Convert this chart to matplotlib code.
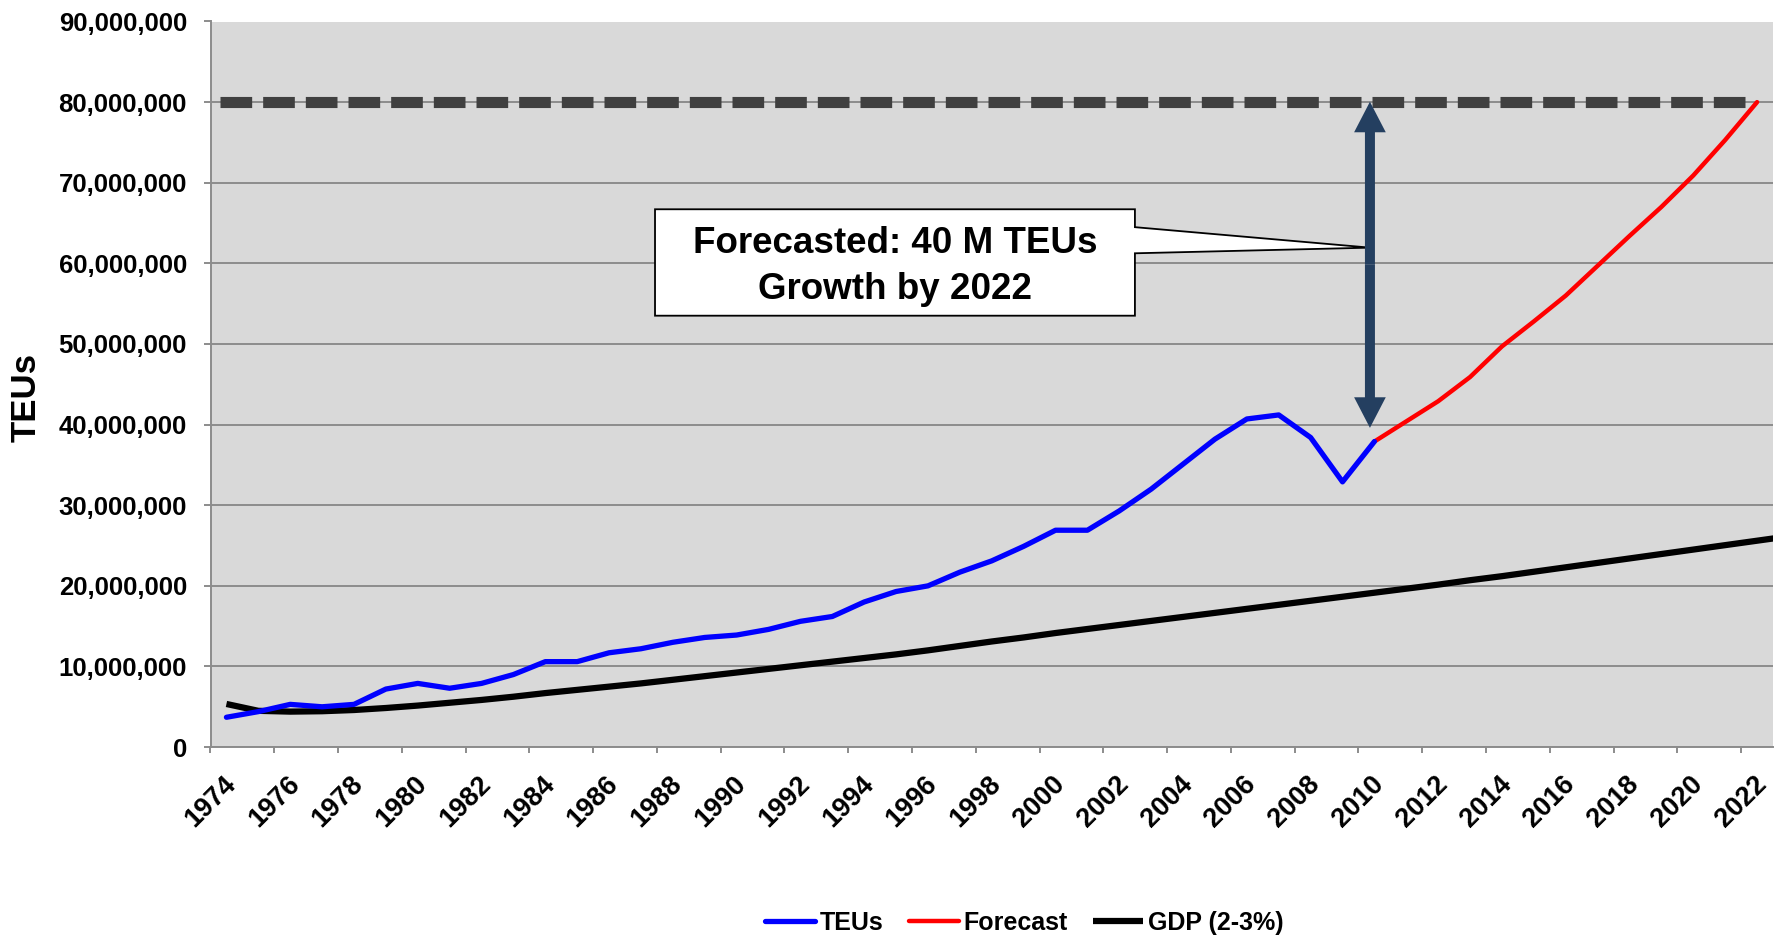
import matplotlib
matplotlib.use("Agg")
import matplotlib.pyplot as plt
from matplotlib.patches import FancyArrowPatch, Polygon
from matplotlib.ticker import FuncFormatter, MultipleLocator

plt.rcParams["font.family"] = ["Liberation Sans", "DejaVu Sans"]
plt.rcParams["font.weight"] = "bold"

# ---- data (values in TEUs, one point per year, drawn at mid-year) ----
teu_years = list(range(1974, 2011))
teu_vals = [3.7, 4.4, 5.3, 5.0, 5.3, 7.2, 7.9, 7.3, 7.9, 9.0,
            10.6, 10.6, 11.7, 12.2, 13.0, 13.6, 13.9, 14.6, 15.6, 16.2,
            18.0, 19.3, 20.0, 21.7, 23.1, 24.9, 26.9, 26.9, 29.3, 32.0,
            35.1, 38.2, 40.7, 41.2, 38.4, 32.9, 37.9]
fc_years = list(range(2010, 2023))
fc_vals = [37.9, 40.4, 42.9, 45.9, 49.7, 52.8, 56.0, 59.7, 63.4, 67.0,
           70.9, 75.3, 80.0]
gdp_years = list(range(1974, 2024))
gdp_vals = [5.35, 4.5, 4.4, 4.45, 4.6, 4.85, 5.15, 5.5, 5.85, 6.25,
            6.7, 7.1, 7.5, 7.9, 8.35, 8.8, 9.25, 9.7, 10.15, 10.6,
            11.05, 11.5, 12.0, 12.55, 13.1, 13.6, 14.15, 14.65, 15.15, 15.65,
            16.15, 16.65, 17.15, 17.65, 18.15, 18.65, 19.15, 19.65, 20.15, 20.7,
            21.2, 21.75, 22.3, 22.85, 23.4, 23.95, 24.5, 25.05, 25.6, 26.15]
CAPACITY = 80.0          # million TEUs, dashed reference
ARROW_YEAR = 2010.36
ARROW_LOW, ARROW_HIGH = 39.6, 80.05
CALLOUT = "Forecasted: 40 M TEUs\nGrowth by 2022"
M = 1e6

mid = lambda ys: [y + 0.5 for y in ys]
scale = lambda vs: [v * M for v in vs]

fig = plt.figure(figsize=(17.75, 9.36), dpi=100)
ax = fig.add_axes([210.5 / 1775, 1 - 747.1 / 936, 1562.5 / 1775, 725.6 / 936])
ax.set_facecolor("#D9D9D9")
ax.set_xlim(1974, 2023)
ax.set_ylim(0, 90 * M)

GRID = "#8c8c8c"
ax.yaxis.set_major_locator(MultipleLocator(10 * M))
ax.yaxis.set_major_formatter(FuncFormatter(lambda v, p: f"{v:,.0f}"))
ax.grid(axis="y", color=GRID, lw=1.4, zorder=0)
ax.set_axisbelow(True)
ax.set_xticks(range(1974, 2023, 2))
for s in ("top", "right"):
    ax.spines[s].set_visible(False)
for s in ("left", "bottom"):
    ax.spines[s].set_color(GRID)
    ax.spines[s].set_linewidth(1.4)
ax.tick_params(axis="y", direction="out", length=5, width=1.4, color=GRID,
               pad=12, labelsize=18.5)
ax.tick_params(axis="x", direction="out", length=4, width=1.4, color=GRID,
               pad=13, labelsize=19.5)
for lab in ax.get_xticklabels():
    lab.set_rotation(45)
    lab.set_ha("center")
    lab.set_va("top")
for lab in ax.get_xticklabels() + ax.get_yticklabels():
    lab.set_fontweight("bold")

# dashed capacity line
ax.hlines(CAPACITY * M, 1974.3, 2022.2, colors="#404040", lw=8,
          linestyles=[(0, (2.85, 0.99))], zorder=3)

l_teu, = ax.plot(mid(teu_years), scale(teu_vals), color="#0000FF", lw=3.8,
                 solid_capstyle="round", zorder=5, label="TEUs")
l_fc, = ax.plot(mid(fc_years), scale(fc_vals), color="#FF0000", lw=3.2,
                solid_capstyle="round", zorder=4, label="Forecast")
l_gdp, = ax.plot(mid(gdp_years), scale(gdp_vals), color="black", lw=4.5,
                 solid_capstyle="butt", zorder=4, label="GDP (2-3%)")

# callout box with pointer
box = [(1987.94, 66.71), (2002.99, 66.71), (2002.99, 64.49), (ARROW_YEAR, 61.95),
       (2002.99, 61.25), (2002.99, 53.51), (1987.94, 53.51)]
ax.add_patch(Polygon([(x, y * M) for x, y in box], closed=True, facecolor="white",
                     edgecolor="black", lw=1.3, zorder=6))
ax.text(1995.46, 59.6 * M, CALLOUT, ha="center", va="center", fontsize=26.5,
        fontweight="bold", linespacing=1.38, zorder=7)

# double-headed arrow (two simple arrows from the middle)
amid = (ARROW_LOW + ARROW_HIGH) / 2
for end in (ARROW_LOW, ARROW_HIGH):
    ax.add_patch(FancyArrowPatch((ARROW_YEAR, amid * M), (ARROW_YEAR, end * M),
                                 arrowstyle="simple,head_length=22,head_width=22.8,tail_width=7.2",
                                 mutation_scale=1, shrinkA=0, shrinkB=0, lw=0,
                                 color="#243F60", zorder=8))

fig.text(26.3 / 1775, 1 - 397.5 / 936, "TEUs", rotation=90, ha="center",
         va="center", fontsize=25, fontweight="bold")

fig.legend(handles=[l_teu, l_fc, l_gdp], loc="center", bbox_to_anchor=(0.577, 0.0142),
           ncol=3, frameon=False, handlelength=2.0,
           handletextpad=0.2, columnspacing=1.0, borderpad=0,
           prop={"weight": "bold", "size": 18})

fig.savefig("out.png", dpi=100)
